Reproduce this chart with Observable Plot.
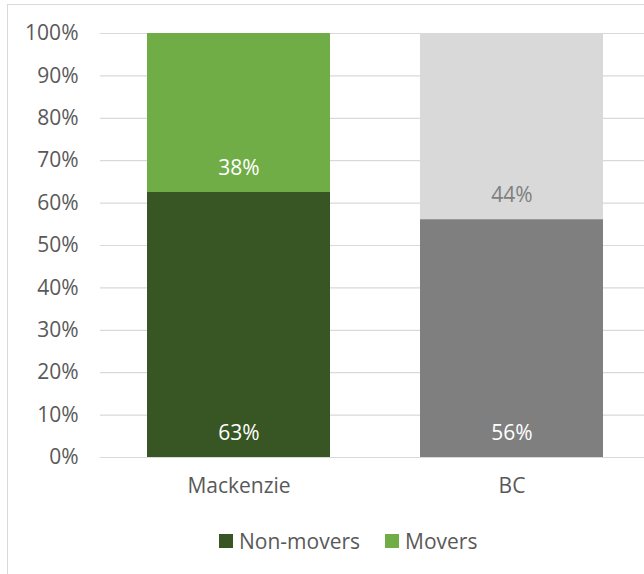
<!DOCTYPE html>
<html>
<head>
<meta charset="utf-8">
<script src="https://cdn.jsdelivr.net/npm/d3@7"></script>
<script src="https://cdn.jsdelivr.net/npm/@observablehq/plot@0.6"></script>
<style>
  html, body { margin: 0; padding: 0; background: #fff; overflow: hidden; }
  body { width: 644px; height: 574px; position: relative; font-family: "Open Sans", sans-serif; }
  #frame { position: absolute; left: 7px; top: 4px; width: 700px; height: 600px;
           border-left: 1px solid #d9d9d9; border-top: 1px solid #d9d9d9; }
  #chart { position: absolute; left: 0; top: 0; width: 660px; }
  #chart svg { max-width: none !important; }
  #legend { position: absolute; top: 527px; left: 219px; display: flex; align-items: center;
            font-size: 21px; color: #595959; white-space: nowrap; }
  #legend .sw { width: 14px; height: 14px; display: inline-block; margin-right: 6px; }
  #legend .item { display: flex; align-items: center; margin-right: 25px; }
</style>
</head>
<body>
<div id="frame"></div>
<div id="chart"></div>
<div id="legend"></div>
<script>
const categories = ["Mackenzie", "BC"];
const seriesNames = ["Non-movers", "Movers"];
const nonMovers = [62.5, 56.1];
const movers = [37.5, 43.9];
const nonMoversLabels = ["63%", "56%"];
const moversLabels = ["38%", "44%"];
const nonMoversColors = ["#375623", "#7f7f7f"];
const moversColors = ["#70ad47", "#d9d9d9"];
const nonMoversLabelColors = ["#ffffff", "#ffffff"];
const moversLabelColors = ["#ffffff", "#7f7f7f"];
const yTicks = [0, 10, 20, 30, 40, 50, 60, 70, 80, 90, 100];
const legendColors = ["#375623", "#70ad47"];

const rows = [];
categories.forEach((c, i) => {
  rows.push({cat: c, series: seriesNames[0], y1: 0, y2: nonMovers[i], fill: nonMoversColors[i],
             label: nonMoversLabels[i], labelColor: nonMoversLabelColors[i]});
  rows.push({cat: c, series: seriesNames[1], y1: nonMovers[i], y2: nonMovers[i] + movers[i], fill: moversColors[i],
             label: moversLabels[i], labelColor: moversLabelColors[i]});
});

const W = 660, H = 574;
const FS = 21;
const chart = Plot.plot({
  width: W, height: H,
  marginLeft: 100, marginRight: W - 649, marginTop: 33, marginBottom: H - 457,
  style: {fontFamily: "Open Sans, sans-serif", fontSize: FS + "px", color: "#595959", background: "transparent", maxWidth: "none"},
  x: {domain: categories, paddingInner: 0.33, paddingOuter: 0.17, label: null},
  y: {domain: [0, 100], label: null},
  color: {type: "identity"},
  marks: [
    Plot.gridY(yTicks, {stroke: "#d9d9d9", strokeOpacity: 1, strokeWidth: 1.2}),
    Plot.barY(rows, {x: "cat", y1: "y1", y2: "y2", fill: "fill", insetLeft: 0, insetRight: 0}),
    Plot.text(rows, {x: "cat", y: "y1", text: "label", fill: "labelColor", dy: -24, fontSize: FS, lineAnchor: "middle"}),
    Plot.axisY(yTicks, {tickSize: 0, tickPadding: 22, tickFormat: d => d + "%", fontSize: FS, fill: "#595959"}),
    Plot.axisX({tickSize: 0, tickPadding: 21, fontSize: FS, fill: "#595959", label: null})
  ]
});
document.getElementById("chart").appendChild(chart);

const legend = document.getElementById("legend");
seriesNames.forEach((s, i) => {
  const item = document.createElement("div");
  item.className = "item";
  const sw = document.createElement("span");
  sw.className = "sw";
  sw.style.background = legendColors[i];
  item.appendChild(sw);
  item.appendChild(document.createTextNode(s));
  legend.appendChild(item);
});
</script>
</body>
</html>
